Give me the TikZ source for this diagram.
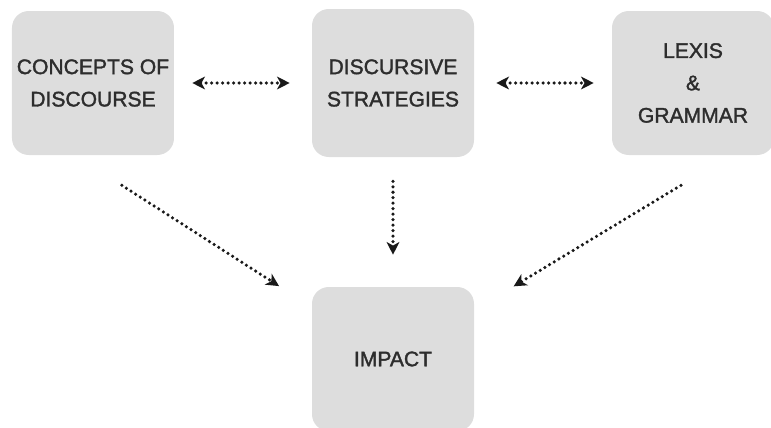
\documentclass[tikz,border=0pt]{standalone}
\usepackage{fontspec}
\setmainfont{Liberation Sans}
\newfontfamily\boxfont[FakeBold=1.6]{Liberation Sans}
\usepackage{tikz}
\usetikzlibrary{arrows.meta,calc}
\usepackage{xcolor}
\definecolor{boxgray}{RGB}{221,221,221}
\definecolor{textgray}{RGB}{45,45,45}
\definecolor{dotgray}{RGB}{25,25,25}

\begin{document}
\begin{tikzpicture}[>={Stealth[length=9pt,width=9pt,inset=2.5pt]},node distance=7.5cm,
	box/.style={fill=boxgray,rounded corners=0.42cm,minimum width=4.05cm,minimum height=3.6cm,
		align=center,text=textgray,font=\boxfont\fontsize{15}{23}\selectfont},
	link/.style={draw=dotgray,line width=2.5pt,line cap=round,dash pattern=on 0pt off 3.9pt}]
		\useasboundingbox (-2.325,2.075) rectangle (16.95,-8.6);

		\node[box] (n1) {CONCEPTS OF\\DISCOURSE};
		\node[box,minimum height=3.7cm] (n2) [right of=n1] {DISCURSIVE\\STRATEGIES};
		\node[box] (n3) [right of=n2] {LEXIS\\\&\\GRAMMAR};
		\node[box] (n4) [below of=n2,node distance=6.9cm] {IMPACT};

		% loose ends of the slanted arrows
		\coordinate (s1) at ($(n1.south)+(0.72,-0.75)$);
		\coordinate (s3) at ($(n3.south)+(-0.3,-0.75)$);

		\path (n1) edge[link,<->,shorten <=0.45cm,shorten >=0.55cm] (n2);
		\path (n2) edge[link,<->,shorten <=0.55cm,shorten >=0.45cm] (n3);

		\path (s1) edge[link,->,shorten >=0.97cm] (n4);
		\path (n2) edge[link,->,shorten <=0.6cm,shorten >=0.8cm] (n4);
		\path (s3) edge[link,->,shorten >=1.15cm] (n4);
		\end{tikzpicture}
\end{document}
